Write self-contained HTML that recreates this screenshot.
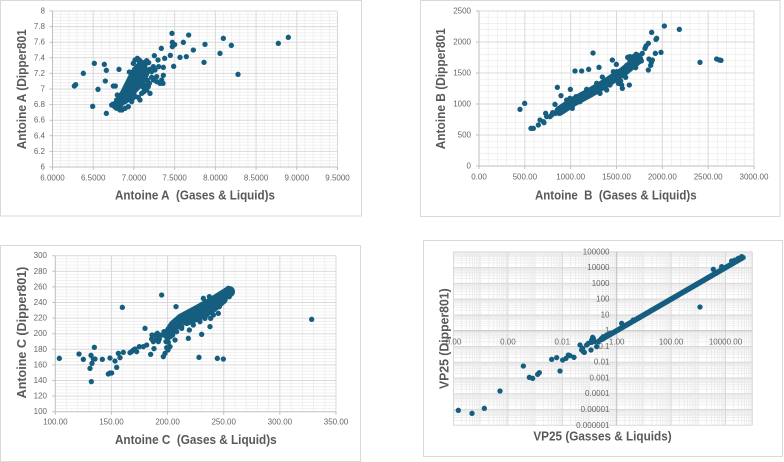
<!DOCTYPE html>
<html><head><meta charset="utf-8"><style>
html,body{margin:0;padding:0;background:#fff;}
svg{display:block;}
.t{font-family:"Liberation Sans",sans-serif;font-size:8px;fill:#666;}
.a{font-family:"Liberation Sans",sans-serif;font-size:13px;font-weight:bold;fill:#595959;}
</style></head><body>
<svg width="784" height="462" viewBox="0 0 784 462" xmlns="http://www.w3.org/2000/svg">

<!-- ===== Chart 1 ===== -->
<rect x="0.5" y="0.5" width="361" height="215.5" fill="#ffffff" stroke="#d9d9d9"/>
<g stroke="#ebebeb" stroke-width="0.7" fill="none">
<path d="M60.64 11V167M68.79 11V167M76.93 11V167M85.07 11V167M101.36 11V167M109.5 11V167M117.64 11V167M125.79 11V167M142.07 11V167M150.21 11V167M158.36 11V167M166.5 11V167M182.79 11V167M190.93 11V167M199.07 11V167M207.21 11V167M223.5 11V167M231.64 11V167M239.79 11V167M247.93 11V167M264.21 11V167M272.36 11V167M280.5 11V167M288.64 11V167M304.93 11V167M313.07 11V167M321.21 11V167M329.36 11V167"/>
<path d="M52.5 14.12H337.5M52.5 17.24H337.5M52.5 20.36H337.5M52.5 23.48H337.5M52.5 29.72H337.5M52.5 32.84H337.5M52.5 35.96H337.5M52.5 39.08H337.5M52.5 45.32H337.5M52.5 48.44H337.5M52.5 51.56H337.5M52.5 54.68H337.5M52.5 60.92H337.5M52.5 64.04H337.5M52.5 67.16H337.5M52.5 70.28H337.5M52.5 76.52H337.5M52.5 79.64H337.5M52.5 82.76H337.5M52.5 85.88H337.5M52.5 92.12H337.5M52.5 95.24H337.5M52.5 98.36H337.5M52.5 101.48H337.5M52.5 107.72H337.5M52.5 110.84H337.5M52.5 113.96H337.5M52.5 117.08H337.5M52.5 123.32H337.5M52.5 126.44H337.5M52.5 129.56H337.5M52.5 132.68H337.5M52.5 138.92H337.5M52.5 142.04H337.5M52.5 145.16H337.5M52.5 148.28H337.5M52.5 154.52H337.5M52.5 157.64H337.5M52.5 160.76H337.5M52.5 163.88H337.5"/>
</g>
<g stroke="#d9d9d9" stroke-width="1" fill="none">
<path d="M93.21 11V167M133.93 11V167M174.64 11V167M215.36 11V167M256.07 11V167M296.79 11V167M337.5 11V167"/>
<path d="M52.5 11H337.5M52.5 26.6H337.5M52.5 42.2H337.5M52.5 57.8H337.5M52.5 73.4H337.5M52.5 89H337.5M52.5 104.6H337.5M52.5 120.2H337.5M52.5 135.8H337.5M52.5 151.4H337.5"/>
</g>
<g stroke="#bfbfbf" stroke-width="1" fill="none">
<path d="M52.5 11V167H337.5"/>
<path d="M49.5 11H52.5M49.5 26.6H52.5M49.5 42.2H52.5M49.5 57.8H52.5M49.5 73.4H52.5M49.5 89H52.5M49.5 104.6H52.5M49.5 120.2H52.5M49.5 135.8H52.5M49.5 151.4H52.5M49.5 167H52.5"/>
<path d="M52.5 167V170M93.21 167V170M133.93 167V170M174.64 167V170M215.36 167V170M256.07 167V170M296.79 167V170M337.5 167V170"/>
</g>
<g class="t" text-anchor="end" dominant-baseline="central">
<text x="45" y="11">8</text><text x="45" y="26.6">7.8</text><text x="45" y="42.2">7.6</text><text x="45" y="57.8">7.4</text><text x="45" y="73.4">7.2</text><text x="45" y="89">7</text><text x="45" y="104.6">6.8</text><text x="45" y="120.2">6.6</text><text x="45" y="135.8">6.4</text><text x="45" y="151.4">6.2</text><text x="45" y="167">6</text>
</g>
<g class="t" text-anchor="middle" dominant-baseline="central">
<text x="52.5" y="178">6.0000</text><text x="93.21" y="178">6.5000</text><text x="133.93" y="178">7.0000</text><text x="174.64" y="178">7.5000</text><text x="215.36" y="178">8.0000</text><text x="256.07" y="178">8.5000</text><text x="296.79" y="178">9.0000</text><text x="337.5" y="178">9.5000</text>
</g>
<g transform="scale(0.33333)">
<path d="M352,318 L375,280 L395,240 L410,212 L428,195" fill="none" stroke="#165e7f" stroke-width="30" stroke-linecap="round" stroke-linejoin="round"/>
<path d="M372,300 L400,268 L422,245 L436,215" fill="none" stroke="#165e7f" stroke-width="28" stroke-linecap="round" stroke-linejoin="round"/>
<g fill="#165e7f">
<circle cx="223" cy="258" r="8"/><circle cx="227" cy="254" r="8"/><circle cx="250" cy="220" r="8"/><circle cx="283" cy="190" r="8"/><circle cx="278" cy="319" r="8"/><circle cx="294" cy="268" r="8"/><circle cx="313" cy="193" r="8"/><circle cx="319" cy="211" r="8"/><circle cx="316" cy="243" r="8"/><circle cx="319" cy="340" r="8"/><circle cx="340" cy="258" r="8"/><circle cx="346" cy="258" r="8"/><circle cx="357" cy="208" r="8"/><circle cx="338" cy="313" r="8"/><circle cx="342" cy="318" r="8"/><circle cx="350" cy="300" r="8"/><circle cx="355" cy="322" r="8"/><circle cx="360" cy="330" r="8"/><circle cx="366" cy="330" r="8"/><circle cx="363" cy="305" r="8"/><circle cx="373" cy="290" r="8"/><circle cx="378" cy="275" r="8"/><circle cx="388" cy="216" r="8"/><circle cx="400" cy="190" r="8"/><circle cx="392" cy="250" r="8"/><circle cx="408" cy="205" r="8"/><circle cx="415" cy="178" r="8"/><circle cx="420" cy="182" r="8"/><circle cx="418" cy="190" r="8"/><circle cx="425" cy="197" r="8"/><circle cx="430" cy="190" r="8"/><circle cx="428" cy="210" r="8"/><circle cx="440" cy="182" r="8"/><circle cx="446" cy="188" r="8"/><circle cx="449" cy="208" r="8"/><circle cx="455" cy="215" r="8"/><circle cx="460" cy="200" r="8"/><circle cx="465" cy="210" r="8"/><circle cx="470" cy="230" r="8"/><circle cx="463" cy="167" r="8"/><circle cx="476" cy="200" r="8"/><circle cx="484" cy="145" r="8"/><circle cx="474" cy="180" r="8"/><circle cx="490" cy="202" r="8"/><circle cx="494" cy="175" r="8"/><circle cx="485" cy="240" r="8"/><circle cx="490" cy="226" r="8"/><circle cx="450" cy="280" r="8"/><circle cx="442" cy="240" r="8"/><circle cx="460" cy="240" r="8"/><circle cx="470" cy="245" r="8"/><circle cx="480" cy="250" r="8"/><circle cx="489" cy="250" r="8"/><circle cx="511" cy="166" r="8"/><circle cx="521" cy="199" r="8"/><circle cx="517" cy="127" r="8"/><circle cx="517" cy="140" r="8"/><circle cx="524" cy="134" r="8"/><circle cx="516" cy="100" r="8"/><circle cx="540" cy="172" r="8"/><circle cx="550" cy="127" r="8"/><circle cx="559" cy="170" r="8"/><circle cx="566" cy="105" r="8"/><circle cx="580" cy="150" r="8"/><circle cx="612" cy="187" r="8"/><circle cx="615" cy="133" r="8"/><circle cx="660" cy="160" r="8"/><circle cx="670" cy="115" r="8"/><circle cx="694" cy="136" r="8"/><circle cx="714" cy="223" r="8"/><circle cx="835" cy="130" r="8"/><circle cx="865" cy="112" r="8"/><circle cx="433" cy="230" r="8"/><circle cx="438" cy="255" r="8"/><circle cx="445" cy="260" r="8"/><circle cx="425" cy="280" r="8"/><circle cx="432" cy="275" r="8"/><circle cx="420" cy="300" r="8"/><circle cx="405" cy="290" r="8"/><circle cx="395" cy="305" r="8"/><circle cx="385" cy="320" r="8"/><circle cx="375" cy="325" r="8"/><circle cx="365" cy="290" r="8"/><circle cx="352" cy="285" r="8"/><circle cx="410" cy="240" r="8"/><circle cx="420" cy="250" r="8"/><circle cx="400" cy="270" r="8"/><circle cx="380" cy="260" r="8"/><circle cx="370" cy="300" r="8"/><circle cx="345" cy="310" r="8"/><circle cx="335" cy="315" r="8"/><circle cx="405" cy="180" r="8"/><circle cx="412" cy="175" r="8"/><circle cx="402" cy="283" r="8"/><circle cx="415" cy="292" r="8"/><circle cx="398" cy="295" r="8"/><circle cx="382" cy="300" r="8"/><circle cx="455" cy="232" r="8"/><circle cx="448" cy="250" r="8"/><circle cx="440" cy="270" r="8"/><circle cx="430" cy="262" r="8"/>
</g></g>
<text class="a" x="195" y="195" text-anchor="middle" dominant-baseline="central" textLength="160" lengthAdjust="spacingAndGlyphs">Antoine A&#160; (Gases &amp; Liquid)s</text>
<text class="a" transform="translate(21.7,89.3) rotate(-90)" text-anchor="middle" dominant-baseline="central" textLength="120" lengthAdjust="spacingAndGlyphs">Antoine A (Dipper801</text>

<!-- ===== Chart 2 ===== -->
<rect x="420.5" y="0.5" width="359.5" height="216" fill="#ffffff" stroke="#d9d9d9"/>
<g stroke="#ebebeb" stroke-width="0.7" fill="none">
<path d="M488.17 11V166M497.33 11V166M506.5 11V166M515.67 11V166M534 11V166M543.17 11V166M552.33 11V166M561.5 11V166M579.83 11V166M589 11V166M598.17 11V166M607.33 11V166M625.67 11V166M634.83 11V166M644 11V166M653.17 11V166M671.5 11V166M680.67 11V166M689.83 11V166M699 11V166M717.33 11V166M726.5 11V166M735.67 11V166M744.83 11V166"/>
<path d="M479 17.2H754M479 23.4H754M479 29.6H754M479 35.8H754M479 48.2H754M479 54.4H754M479 60.6H754M479 66.8H754M479 79.2H754M479 85.4H754M479 91.6H754M479 97.8H754M479 110.2H754M479 116.4H754M479 122.6H754M479 128.8H754M479 141.2H754M479 147.4H754M479 153.6H754M479 159.8H754"/>
</g>
<g stroke="#d9d9d9" stroke-width="1" fill="none">
<path d="M524.83 11V166M570.67 11V166M616.5 11V166M662.33 11V166M708.17 11V166M754 11V166"/>
<path d="M479 11H754M479 42H754M479 73H754M479 104H754M479 135H754"/>
</g>
<g stroke="#bfbfbf" stroke-width="1" fill="none">
<path d="M479 11V166H754"/>
<path d="M476 11H479M476 42H479M476 73H479M476 104H479M476 135H479M476 166H479"/>
<path d="M479 166V169M524.83 166V169M570.67 166V169M616.5 166V169M662.33 166V169M708.17 166V169M754 166V169"/>
</g>
<g class="t" text-anchor="end" dominant-baseline="central">
<text x="471" y="11">2500</text><text x="471" y="42">2000</text><text x="471" y="73">1500</text><text x="471" y="104">1000</text><text x="471" y="135">500</text><text x="471" y="166">0</text>
</g>
<g class="t" text-anchor="middle" dominant-baseline="central">
<text x="479" y="177">0.00</text><text x="524.83" y="177">500.00</text><text x="570.67" y="177">1000.00</text><text x="616.5" y="177">1500.00</text><text x="662.33" y="177">2000.00</text><text x="708.17" y="177">2500.00</text><text x="754" y="177">3000.00</text>
</g>
<g transform="translate(400,0) scale(0.33333)">
<path d="M478,333 L520,305 L570,278 L620,248 L670,215 L715,178" fill="none" stroke="#165e7f" stroke-width="30" stroke-linecap="round" stroke-linejoin="round"/>
<g fill="#165e7f">
<circle cx="360" cy="328" r="8"/><circle cx="374" cy="310" r="8"/><circle cx="393" cy="385" r="8"/><circle cx="400" cy="385" r="8"/><circle cx="415" cy="375" r="8"/><circle cx="432" cy="368" r="8"/><circle cx="437" cy="340" r="8"/><circle cx="430" cy="365" r="8"/><circle cx="455" cy="345" r="8"/><circle cx="458" cy="338" r="8"/><circle cx="465" cy="313" r="8"/><circle cx="472" cy="262" r="8"/><circle cx="483" cy="287" r="8"/><circle cx="485" cy="330" r="8"/><circle cx="511" cy="268" r="8"/><circle cx="517" cy="325" r="8"/><circle cx="525" cy="213" r="8"/><circle cx="545" cy="213" r="8"/><circle cx="566" cy="208" r="8"/><circle cx="579" cy="159" r="8"/><circle cx="597" cy="202" r="8"/><circle cx="607" cy="231" r="8"/><circle cx="637" cy="180" r="8"/><circle cx="649" cy="193" r="8"/><circle cx="662" cy="243" r="8"/><circle cx="665" cy="255" r="8"/><circle cx="667" cy="265" r="8"/><circle cx="688" cy="255" r="8"/><circle cx="680" cy="196" r="8"/><circle cx="677" cy="232" r="8"/><circle cx="683" cy="172" r="8"/><circle cx="690" cy="182" r="8"/><circle cx="699" cy="195" r="8"/><circle cx="707" cy="203" r="8"/><circle cx="708" cy="163" r="8"/><circle cx="713" cy="165" r="8"/><circle cx="718" cy="174" r="8"/><circle cx="724" cy="183" r="8"/><circle cx="727" cy="160" r="8"/><circle cx="735" cy="145" r="8"/><circle cx="738" cy="138" r="8"/><circle cx="745" cy="130" r="8"/><circle cx="747" cy="177" r="8"/><circle cx="745" cy="210" r="8"/><circle cx="752" cy="196" r="8"/><circle cx="754" cy="187" r="8"/><circle cx="757" cy="180" r="8"/><circle cx="766" cy="160" r="8"/><circle cx="768" cy="118" r="8"/><circle cx="770" cy="115" r="8"/><circle cx="755" cy="97" r="8"/><circle cx="783" cy="157" r="8"/><circle cx="793" cy="78" r="8"/><circle cx="838" cy="88" r="8"/><circle cx="900" cy="187" r="8"/><circle cx="950" cy="177" r="8"/><circle cx="958" cy="180" r="8"/><circle cx="963" cy="181" r="8"/><circle cx="440" cy="350" r="8"/><circle cx="420" cy="360" r="8"/><circle cx="450" cy="350" r="8"/><circle cx="490" cy="320" r="8"/><circle cx="500" cy="300" r="8"/><circle cx="510" cy="295" r="8"/><circle cx="520" cy="305" r="8"/><circle cx="530" cy="300" r="8"/><circle cx="540" cy="305" r="8"/><circle cx="600" cy="280" r="8"/><circle cx="610" cy="250" r="8"/><circle cx="620" cy="270" r="8"/><circle cx="630" cy="255" r="8"/><circle cx="640" cy="240" r="8"/><circle cx="650" cy="215" r="8"/><circle cx="660" cy="225" r="8"/><circle cx="670" cy="210" r="8"/><circle cx="680" cy="205" r="8"/><circle cx="690" cy="200" r="8"/><circle cx="710" cy="188" r="8"/><circle cx="466" cy="340" r="8"/><circle cx="478" cy="332" r="8"/><circle cx="500" cy="325" r="8"/><circle cx="508" cy="315" r="8"/><circle cx="560" cy="290" r="8"/><circle cx="575" cy="282" r="8"/><circle cx="590" cy="275" r="8"/><circle cx="620" cy="245" r="8"/><circle cx="655" cy="250" r="8"/><circle cx="700" cy="170" r="8"/><circle cx="690" cy="170" r="8"/><circle cx="640" cy="215" r="8"/><circle cx="590" cy="250" r="8"/><circle cx="560" cy="268" r="8"/><circle cx="528" cy="290" r="8"/>
</g></g>
<text class="a" x="615.8" y="195" text-anchor="middle" dominant-baseline="central" textLength="161.7" lengthAdjust="spacingAndGlyphs">Antoine&#160; B&#160; (Gases &amp; Liquid)s</text>
<text class="a" transform="translate(440.7,88.8) rotate(-90)" text-anchor="middle" dominant-baseline="central" textLength="121" lengthAdjust="spacingAndGlyphs">Antoine B (Dipper801</text>

<!-- ===== Chart 3 ===== -->
<rect x="0.5" y="245.5" width="360" height="216" fill="#ffffff" stroke="#d9d9d9"/>
<g stroke="#ebebeb" stroke-width="0.7" fill="none">
<path d="M66.53 255.7V411.7M77.76 255.7V411.7M88.98 255.7V411.7M100.21 255.7V411.7M122.67 255.7V411.7M133.9 255.7V411.7M145.12 255.7V411.7M156.35 255.7V411.7M178.81 255.7V411.7M190.04 255.7V411.7M201.26 255.7V411.7M212.49 255.7V411.7M234.95 255.7V411.7M246.18 255.7V411.7M257.4 255.7V411.7M268.63 255.7V411.7M291.09 255.7V411.7M302.32 255.7V411.7M313.54 255.7V411.7M324.77 255.7V411.7"/>
<path d="M55.3 258.82H336M55.3 261.94H336M55.3 265.06H336M55.3 268.18H336M55.3 274.42H336M55.3 277.54H336M55.3 280.66H336M55.3 283.78H336M55.3 290.02H336M55.3 293.14H336M55.3 296.26H336M55.3 299.38H336M55.3 305.62H336M55.3 308.74H336M55.3 311.86H336M55.3 314.98H336M55.3 321.22H336M55.3 324.34H336M55.3 327.46H336M55.3 330.58H336M55.3 336.82H336M55.3 339.94H336M55.3 343.06H336M55.3 346.18H336M55.3 352.42H336M55.3 355.54H336M55.3 358.66H336M55.3 361.78H336M55.3 368.02H336M55.3 371.14H336M55.3 374.26H336M55.3 377.38H336M55.3 383.62H336M55.3 386.74H336M55.3 389.86H336M55.3 392.98H336M55.3 399.22H336M55.3 402.34H336M55.3 405.46H336M55.3 408.58H336"/>
</g>
<g stroke="#d9d9d9" stroke-width="1" fill="none">
<path d="M111.44 255.7V411.7M167.58 255.7V411.7M223.72 255.7V411.7M279.86 255.7V411.7M336 255.7V411.7"/>
<path d="M55.3 255.7H336M55.3 271.3H336M55.3 286.9H336M55.3 302.5H336M55.3 318.1H336M55.3 333.7H336M55.3 349.3H336M55.3 364.9H336M55.3 380.5H336M55.3 396.1H336"/>
</g>
<g stroke="#bfbfbf" stroke-width="1" fill="none">
<path d="M55.3 255.7V411.7H336"/>
<path d="M52.3 255.7H55.3M52.3 271.3H55.3M52.3 286.9H55.3M52.3 302.5H55.3M52.3 318.1H55.3M52.3 333.7H55.3M52.3 349.3H55.3M52.3 364.9H55.3M52.3 380.5H55.3M52.3 396.1H55.3M52.3 411.7H55.3"/>
<path d="M55.3 411.7V414.7M111.44 411.7V414.7M167.58 411.7V414.7M223.72 411.7V414.7M279.86 411.7V414.7M336 411.7V414.7"/>
</g>
<g class="t" text-anchor="end" dominant-baseline="central">
<text x="47" y="255.7">300</text><text x="47" y="271.3">280</text><text x="47" y="286.9">260</text><text x="47" y="302.5">240</text><text x="47" y="318.1">220</text><text x="47" y="333.7">200</text><text x="47" y="349.3">180</text><text x="47" y="364.9">160</text><text x="47" y="380.5">140</text><text x="47" y="396.1">120</text><text x="47" y="411.7">100</text>
</g>
<g class="t" text-anchor="middle" dominant-baseline="central">
<text x="55.3" y="422">100.00</text><text x="111.44" y="422">150.00</text><text x="167.58" y="422">200.00</text><text x="223.72" y="422">250.00</text><text x="279.86" y="422">300.00</text><text x="336" y="422">350.00</text>
</g>
<g transform="translate(0,235) scale(0.33333)">
<path d="M505,298 L522,272 L545,252 L590,228 L640,200 L688,170" fill="none" stroke="#165e7f" stroke-width="34" stroke-linecap="round" stroke-linejoin="round"/>
<path d="M560,262 L600,245 L640,222 L672,195" fill="none" stroke="#165e7f" stroke-width="22" stroke-linecap="round" stroke-linejoin="round"/>
<g fill="#165e7f">
<circle cx="178" cy="370" r="8"/><circle cx="237" cy="357" r="8"/><circle cx="250" cy="373" r="8"/><circle cx="273" cy="361" r="8"/><circle cx="270" cy="400" r="8"/><circle cx="274" cy="440" r="8"/><circle cx="276" cy="385" r="8"/><circle cx="280" cy="372" r="8"/><circle cx="283" cy="337" r="8"/><circle cx="285" cy="372" r="8"/><circle cx="307" cy="373" r="8"/><circle cx="330" cy="369" r="8"/><circle cx="325" cy="417" r="8"/><circle cx="330" cy="414" r="8"/><circle cx="335" cy="414" r="8"/><circle cx="345" cy="378" r="8"/><circle cx="350" cy="397" r="8"/><circle cx="355" cy="355" r="8"/><circle cx="360" cy="368" r="8"/><circle cx="367" cy="217" r="8"/><circle cx="370" cy="352" r="8"/><circle cx="390" cy="353" r="8"/><circle cx="395" cy="350" r="8"/><circle cx="400" cy="345" r="8"/><circle cx="405" cy="342" r="8"/><circle cx="410" cy="350" r="8"/><circle cx="418" cy="335" r="8"/><circle cx="430" cy="335" r="8"/><circle cx="435" cy="280" r="8"/><circle cx="440" cy="330" r="8"/><circle cx="452" cy="358" r="8"/><circle cx="455" cy="312" r="8"/><circle cx="460" cy="320" r="8"/><circle cx="462" cy="341" r="8"/><circle cx="466" cy="300" r="8"/><circle cx="472" cy="295" r="8"/><circle cx="475" cy="320" r="8"/><circle cx="485" cy="180" r="8"/><circle cx="488" cy="300" r="8"/><circle cx="490" cy="365" r="8"/><circle cx="495" cy="355" r="8"/><circle cx="500" cy="338" r="8"/><circle cx="504" cy="345" r="8"/><circle cx="506" cy="305" r="8"/><circle cx="510" cy="335" r="8"/><circle cx="528" cy="215" r="8"/><circle cx="525" cy="315" r="8"/><circle cx="540" cy="260" r="8"/><circle cx="545" cy="275" r="8"/><circle cx="565" cy="310" r="8"/><circle cx="568" cy="285" r="8"/><circle cx="580" cy="270" r="8"/><circle cx="597" cy="367" r="8"/><circle cx="605" cy="298" r="8"/><circle cx="610" cy="190" r="8"/><circle cx="628" cy="185" r="8"/><circle cx="630" cy="275" r="8"/><circle cx="632" cy="250" r="8"/><circle cx="655" cy="235" r="8"/><circle cx="658" cy="215" r="8"/><circle cx="660" cy="195" r="8"/><circle cx="652" cy="370" r="8"/><circle cx="670" cy="372" r="8"/><circle cx="685" cy="160" r="8"/><circle cx="688" cy="185" r="8"/><circle cx="935" cy="253" r="8"/><circle cx="545" cy="280" r="8"/><circle cx="555" cy="255" r="8"/><circle cx="585" cy="255" r="8"/><circle cx="600" cy="260" r="8"/><circle cx="615" cy="250" r="8"/><circle cx="620" cy="240" r="8"/><circle cx="456" cy="300" r="8"/><circle cx="470" cy="310" r="8"/><circle cx="480" cy="300" r="8"/><circle cx="492" cy="290" r="8"/><circle cx="478" cy="312" r="8"/><circle cx="498" cy="320" r="8"/><circle cx="505" cy="322" r="8"/><circle cx="518" cy="300" r="8"/><circle cx="530" cy="290" r="8"/><circle cx="650" cy="205" r="8"/><circle cx="672" cy="180" r="8"/><circle cx="680" cy="170" r="8"/><circle cx="690" cy="165" r="8"/><circle cx="640" cy="240" r="8"/><circle cx="600" cy="230" r="8"/><circle cx="610" cy="220" r="8"/>
</g></g>
<text class="a" x="195.8" y="439.3" text-anchor="middle" dominant-baseline="central" textLength="161.7" lengthAdjust="spacingAndGlyphs">Antoine C&#160; (Gases &amp; Liquid)s</text>
<text class="a" transform="translate(21.7,332.5) rotate(-90)" text-anchor="middle" dominant-baseline="central" textLength="131.7" lengthAdjust="spacingAndGlyphs">Antoine C (Dipper801)</text>

<!-- ===== Chart 4 ===== -->
<rect x="423.5" y="240.5" width="359" height="216" fill="#ffffff" stroke="#d9d9d9"/>
<g stroke="#e8e8e8" stroke-width="0.7" fill="none">
<path d="M453.5 420.52H752.3M453.5 417.74H752.3M453.5 415.77H752.3M453.5 414.24H752.3M453.5 413H752.3M453.5 411.94H752.3M453.5 411.03H752.3M453.5 410.22H752.3
M453.5 404.76H752.3M453.5 401.98H752.3M453.5 400.01H752.3M453.5 398.48H752.3M453.5 397.24H752.3M453.5 396.18H752.3M453.5 395.27H752.3M453.5 394.46H752.3
M453.5 389H752.3M453.5 386.22H752.3M453.5 384.25H752.3M453.5 382.72H752.3M453.5 381.48H752.3M453.5 380.42H752.3M453.5 379.51H752.3M453.5 378.7H752.3
M453.5 373.24H752.3M453.5 370.46H752.3M453.5 368.49H752.3M453.5 366.96H752.3M453.5 365.72H752.3M453.5 364.66H752.3M453.5 363.75H752.3M453.5 362.94H752.3
M453.5 357.48H752.3M453.5 354.7H752.3M453.5 352.73H752.3M453.5 351.2H752.3M453.5 349.96H752.3M453.5 348.9H752.3M453.5 347.99H752.3M453.5 347.18H752.3
M453.5 341.72H752.3M453.5 338.94H752.3M453.5 336.97H752.3M453.5 335.44H752.3M453.5 334.2H752.3M453.5 333.14H752.3M453.5 332.23H752.3M453.5 331.42H752.3
M453.5 325.96H752.3M453.5 323.18H752.3M453.5 321.21H752.3M453.5 319.68H752.3M453.5 318.44H752.3M453.5 317.38H752.3M453.5 316.47H752.3M453.5 315.66H752.3
M453.5 310.2H752.3M453.5 307.42H752.3M453.5 305.45H752.3M453.5 303.92H752.3M453.5 302.68H752.3M453.5 301.62H752.3M453.5 300.71H752.3M453.5 299.9H752.3
M453.5 294.44H752.3M453.5 291.66H752.3M453.5 289.69H752.3M453.5 288.16H752.3M453.5 286.92H752.3M453.5 285.86H752.3M453.5 284.95H752.3M453.5 284.14H752.3
M453.5 278.68H752.3M453.5 275.9H752.3M453.5 273.93H752.3M453.5 272.4H752.3M453.5 271.16H752.3M453.5 270.1H752.3M453.5 269.19H752.3M453.5 268.38H752.3
M453.5 262.92H752.3M453.5 260.14H752.3M453.5 258.17H752.3M453.5 256.64H752.3M453.5 255.4H752.3M453.5 254.34H752.3M453.5 253.43H752.3M453.5 252.62H752.3"/>
<path d="M461.7 251.9V425.26M466.5 251.9V425.26M469.9 251.9V425.26M472.5 251.9V425.26M474.6 251.9V425.26M476.5 251.9V425.26M478.1 251.9V425.26M479.5 251.9V425.26M480.7 251.9V425.26M488.9 251.9V425.26M493.7 251.9V425.26M497.1 251.9V425.26M499.7 251.9V425.26M501.9 251.9V425.26M503.7 251.9V425.26M505.3 251.9V425.26M506.6 251.9V425.26
M516.1 251.9V425.26M520.9 251.9V425.26M524.3 251.9V425.26M526.9 251.9V425.26M529 251.9V425.26M530.9 251.9V425.26M532.5 251.9V425.26M533.9 251.9V425.26M535.1 251.9V425.26M543.3 251.9V425.26M548.1 251.9V425.26M551.5 251.9V425.26M554.1 251.9V425.26M556.3 251.9V425.26M558.1 251.9V425.26M559.7 251.9V425.26M561 251.9V425.26
M570.5 251.9V425.26M575.3 251.9V425.26M578.7 251.9V425.26M581.3 251.9V425.26M583.4 251.9V425.26M585.3 251.9V425.26M586.9 251.9V425.26M588.3 251.9V425.26M589.5 251.9V425.26M597.7 251.9V425.26M602.5 251.9V425.26M605.9 251.9V425.26M608.5 251.9V425.26M610.7 251.9V425.26M612.5 251.9V425.26M614.1 251.9V425.26M615.4 251.9V425.26
M624.9 251.9V425.26M629.7 251.9V425.26M633.1 251.9V425.26M635.7 251.9V425.26M637.8 251.9V425.26M639.7 251.9V425.26M641.3 251.9V425.26M642.7 251.9V425.26M643.9 251.9V425.26M652.1 251.9V425.26M656.9 251.9V425.26M660.3 251.9V425.26M662.9 251.9V425.26M665.1 251.9V425.26M666.9 251.9V425.26M668.5 251.9V425.26M669.8 251.9V425.26
M679.3 251.9V425.26M684.1 251.9V425.26M687.5 251.9V425.26M690.1 251.9V425.26M692.2 251.9V425.26M694.1 251.9V425.26M695.7 251.9V425.26M697.1 251.9V425.26M698.3 251.9V425.26M706.5 251.9V425.26M711.3 251.9V425.26M714.7 251.9V425.26M717.3 251.9V425.26M719.5 251.9V425.26M721.3 251.9V425.26M722.9 251.9V425.26M724.2 251.9V425.26
M733.7 251.9V425.26M738.5 251.9V425.26M741.9 251.9V425.26M744.5 251.9V425.26M746.6 251.9V425.26M748.5 251.9V425.26M750.1 251.9V425.26M751.5 251.9V425.26"/>
</g>
<g stroke="#d9d9d9" stroke-width="1" fill="none">
<path d="M453.5 251.9V425.26M507.9 251.9V425.26M562.3 251.9V425.26M671.1 251.9V425.26M725.5 251.9V425.26M752.3 251.9V425.26"/>
<path d="M453.5 251.9H752.3M453.5 267.66H752.3M453.5 283.42H752.3M453.5 299.18H752.3M453.5 314.94H752.3M453.5 346.46H752.3M453.5 362.22H752.3M453.5 377.98H752.3M453.5 393.74H752.3M453.5 409.5H752.3M453.5 425.26H752.3"/>
</g>
<g stroke="#bfbfbf" stroke-width="1" fill="none">
<path d="M616.7 251.9V425.26M453.5 330.7H752.3"/>
</g>
<g class="t" text-anchor="end" dominant-baseline="central">
<text x="609.5" y="251.9">100000</text><text x="609.5" y="267.66">10000</text><text x="609.5" y="283.42">1000</text><text x="609.5" y="299.18">100</text><text x="609.5" y="314.94">10</text><text x="609.5" y="330.7">1</text><text x="609.5" y="346.46">0.1</text><text x="609.5" y="362.22">0.01</text><text x="609.5" y="377.98">0.001</text><text x="609.5" y="393.74">0.0001</text><text x="609.5" y="409.5">0.00001</text><text x="609.5" y="425.26">0.000001</text>
</g>
<g class="t" text-anchor="middle" dominant-baseline="central">
<text x="453.5" y="342">0.00</text><text x="507.9" y="342">0.00</text><text x="562.3" y="342">0.01</text><text x="616.7" y="342">1.00</text><text x="671.1" y="342">100.00</text><text x="725.5" y="342">10000.00</text>
</g>
<line x1="601.5" y1="339.5" x2="743" y2="257.5" stroke="#165e7f" stroke-width="5.5" stroke-linecap="round"/>
<g transform="translate(400,235) scale(0.33333)" fill="#165e7f">
<circle cx="175" cy="526" r="8"/><circle cx="216" cy="535" r="8"/><circle cx="253" cy="520" r="8"/><circle cx="300" cy="468" r="8"/><circle cx="370" cy="393" r="8"/><circle cx="388" cy="427" r="8"/><circle cx="398" cy="430" r="8"/><circle cx="413" cy="418" r="8"/><circle cx="418" cy="413" r="8"/><circle cx="455" cy="373" r="8"/><circle cx="470" cy="368" r="8"/><circle cx="480" cy="408" r="8"/><circle cx="488" cy="375" r="8"/><circle cx="498" cy="370" r="8"/><circle cx="505" cy="360" r="8"/><circle cx="510" cy="362" r="8"/><circle cx="522" cy="367" r="8"/><circle cx="540" cy="330" r="8"/><circle cx="545" cy="345" r="8"/><circle cx="550" cy="350" r="8"/><circle cx="560" cy="330" r="8"/><circle cx="565" cy="325" r="8"/><circle cx="573" cy="345" r="8"/><circle cx="575" cy="315" r="8"/><circle cx="578" cy="307" r="8"/><circle cx="580" cy="310" r="8"/><circle cx="585" cy="320" r="8"/><circle cx="590" cy="335" r="8"/><circle cx="595" cy="320" r="8"/><circle cx="600" cy="315" r="8"/><circle cx="605" cy="310" r="8"/><circle cx="610" cy="305" r="8"/><circle cx="900" cy="216" r="8"/><circle cx="940" cy="103" r="8"/><circle cx="965" cy="95" r="8"/><circle cx="995" cy="78" r="8"/><circle cx="1005" cy="75" r="8"/><circle cx="1015" cy="70" r="8"/><circle cx="1025" cy="65" r="8"/><circle cx="553" cy="352" r="8"/><circle cx="548" cy="340" r="8"/><circle cx="575" cy="322" r="8"/><circle cx="620" cy="300" r="8"/><circle cx="630" cy="295" r="8"/><circle cx="665" cy="265" r="8"/><circle cx="700" cy="255" r="8"/>
</g>
<text class="a" x="602.5" y="436" text-anchor="middle" dominant-baseline="central" textLength="138.3" lengthAdjust="spacingAndGlyphs">VP25 (Gasses &amp; Liquids)</text>
<text class="a" transform="translate(444,338.7) rotate(-90)" text-anchor="middle" dominant-baseline="central" textLength="100.7" lengthAdjust="spacingAndGlyphs">VP25 (Dipper801)</text>
</svg>
</body></html>
